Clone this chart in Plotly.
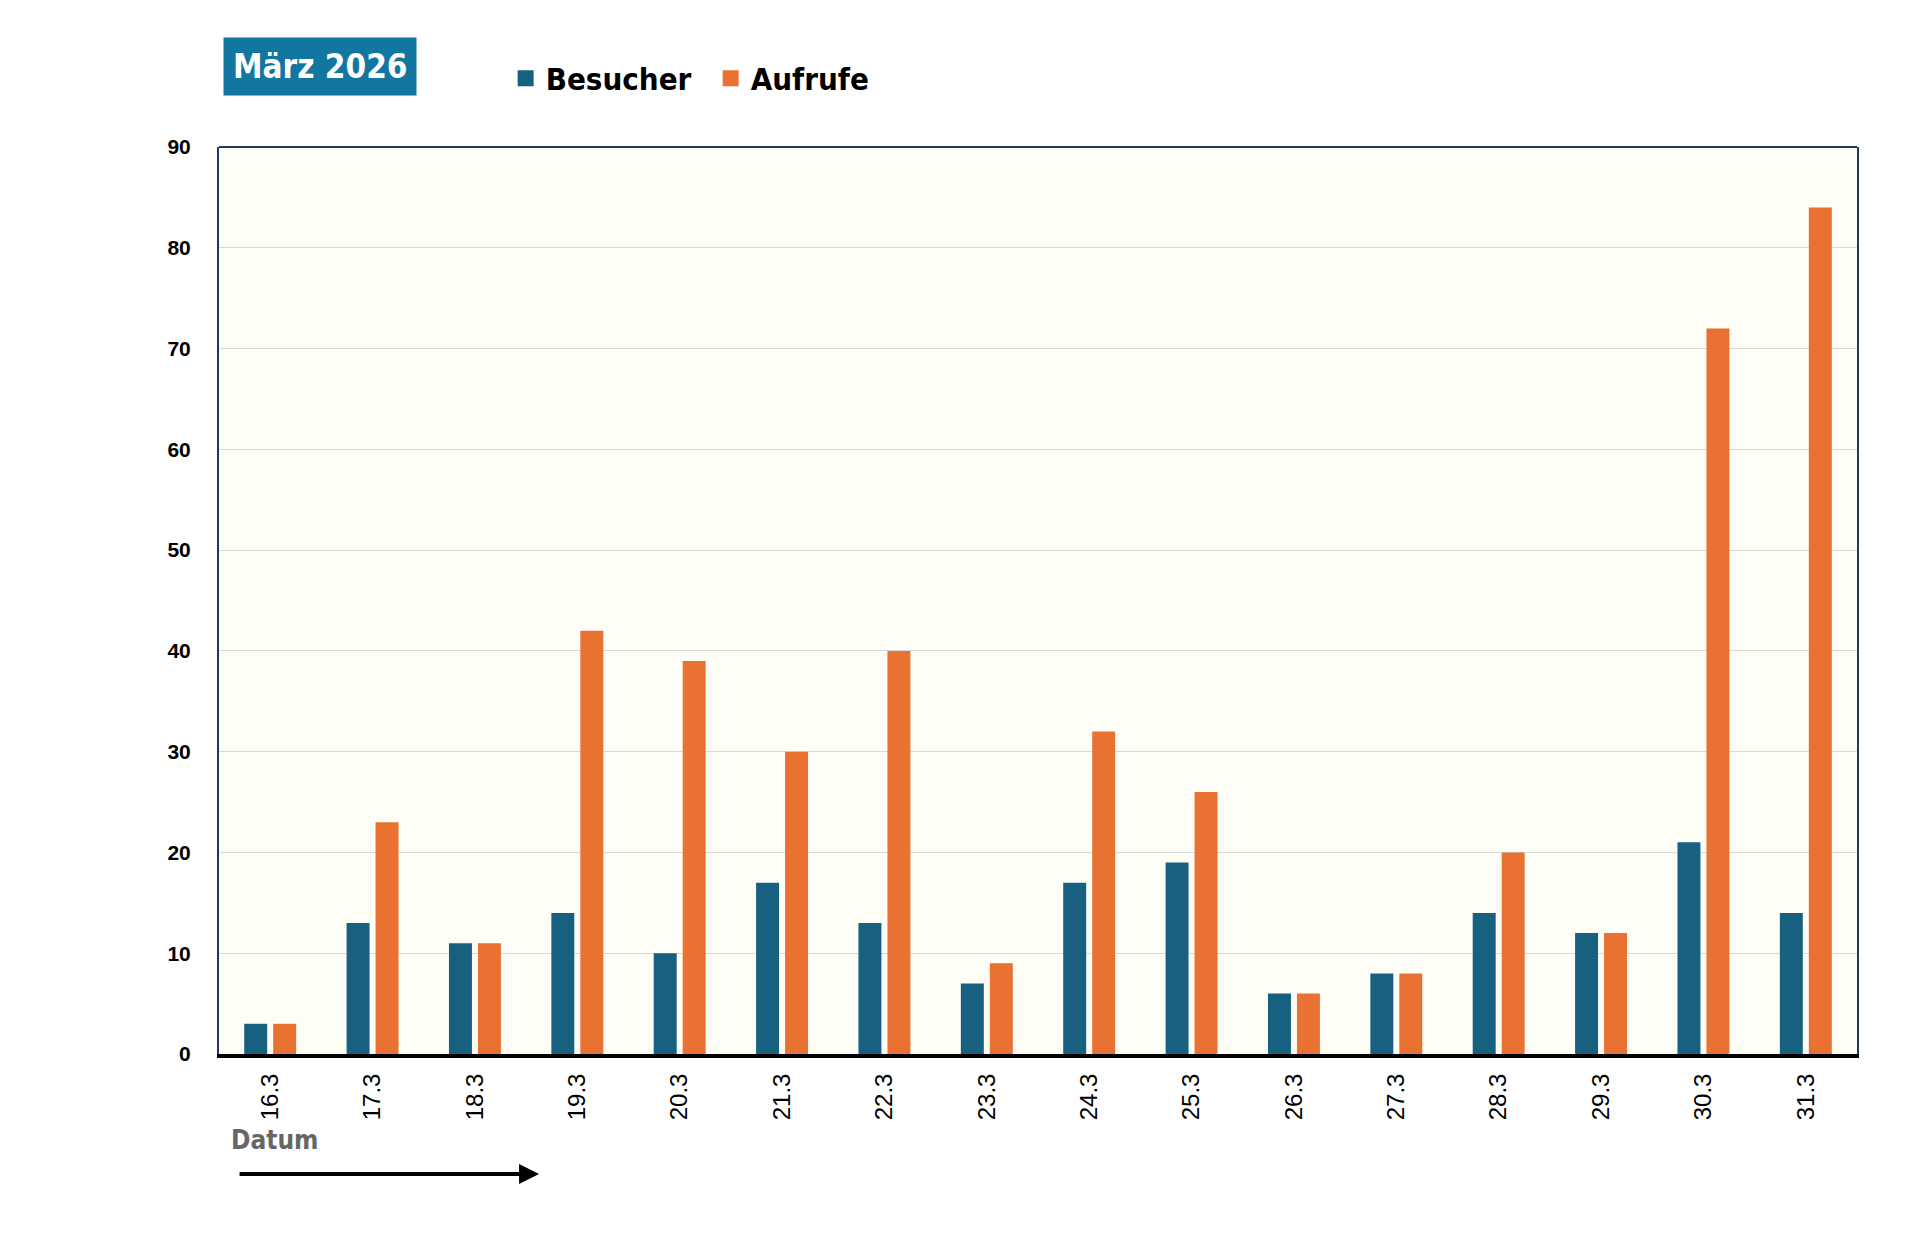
import plotly.graph_objects as go

dates = ["16.3", "17.3", "18.3", "19.3", "20.3", "21.3", "22.3", "23.3",
         "24.3", "25.3", "26.3", "27.3", "28.3", "29.3", "30.3", "31.3"]
besucher = [3, 13, 11, 14, 10, 17, 13, 7, 17, 19, 6, 8, 14, 12, 21, 14]
aufrufe = [3, 23, 11, 42, 39, 30, 40, 9, 32, 26, 6, 8, 20, 12, 72, 84]
y_ticks = [0, 10, 20, 30, 40, 50, 60, 70, 80, 90]

COND = "DejaVu Sans Condensed, DejaVu Sans, sans-serif"
BLUE = "#17607F"
ORANGE = "#E97132"
NAVY = "#1F3864"

fig = go.Figure()
fig.add_trace(go.Bar(x=dates, y=besucher, name="Besucher", marker_color=BLUE,
                     marker_line_width=0, showlegend=False))
fig.add_trace(go.Bar(x=dates, y=aufrufe, name="Aufrufe", marker_color=ORANGE,
                     marker_line_width=0, showlegend=False))
# legend entries (square swatches)
fig.add_trace(go.Scatter(x=[None], y=[None], mode="markers", name="Besucher",
                         marker=dict(symbol="square", size=20, color=BLUE)))
fig.add_trace(go.Scatter(x=[None], y=[None], mode="markers", name="Aufrufe",
                         marker=dict(symbol="square", size=20, color=ORANGE)))

fig.update_layout(
    width=1920, height=1241,
    margin=dict(l=211, r=71, t=139, b=195),
    paper_bgcolor="white",
    plot_bgcolor="#FEFEF7",
    barmode="group",
    bargap=0.434,
    bargroupgap=0.207,
    font=dict(family="Liberation Sans, Arial, sans-serif", color="black"),
    legend=dict(orientation="h", x=0.175, y=1.0755, xanchor="left", yanchor="middle",
                font=dict(family=COND, size=31, color="black", weight="bold"),
                bgcolor="rgba(0,0,0,0)", itemwidth=30, traceorder="normal",
                entrywidth=160),
    xaxis=dict(
        type="category",
        tickangle=-90,
        tickfont=dict(size=24, family="Liberation Sans, Arial, sans-serif"),
        showline=True, linecolor="black", linewidth=4,
        showgrid=False, ticks="", ticklabelstandoff=6,
    ),
    yaxis=dict(
        range=[0, 90],
        tickvals=y_ticks,
        tickfont=dict(size=21, family="Liberation Sans, Arial, sans-serif", weight="bold"),
        showline=True, linecolor=NAVY, linewidth=2, mirror=True,
        showgrid=True, gridcolor="#D9D9D9", gridwidth=1,
        zeroline=False, ticks="", ticklabelstandoff=22,
    ),
    shapes=[
        dict(type="line", xref="paper", yref="paper", x0=0, x1=1, y0=1, y1=1,
             line=dict(color=NAVY, width=2)),
    ],
    annotations=[
        dict(text="<b>März 2026</b>", xref="paper", yref="paper",
             x=0.0614, y=1.0888, xanchor="center", yanchor="middle",
             showarrow=False, bgcolor="#1176A0", borderpad=9,
             font=dict(family=COND, size=33, color="white")),
        dict(text="<b>Datum</b>", xref="paper", yref="paper",
             x=0.034, y=-0.0948, xanchor="center", yanchor="middle",
             showarrow=False,
             font=dict(family=COND, size=26, color="#666666")),
        dict(text="", xref="paper", yref="paper", x=0.1954, y=-0.1323,
             ax=-301, ay=0, axref="pixel", ayref="pixel",
             showarrow=True, arrowhead=2, arrowsize=1, arrowwidth=4,
             arrowcolor="black"),
    ],
)

fig.write_html("out.html")
